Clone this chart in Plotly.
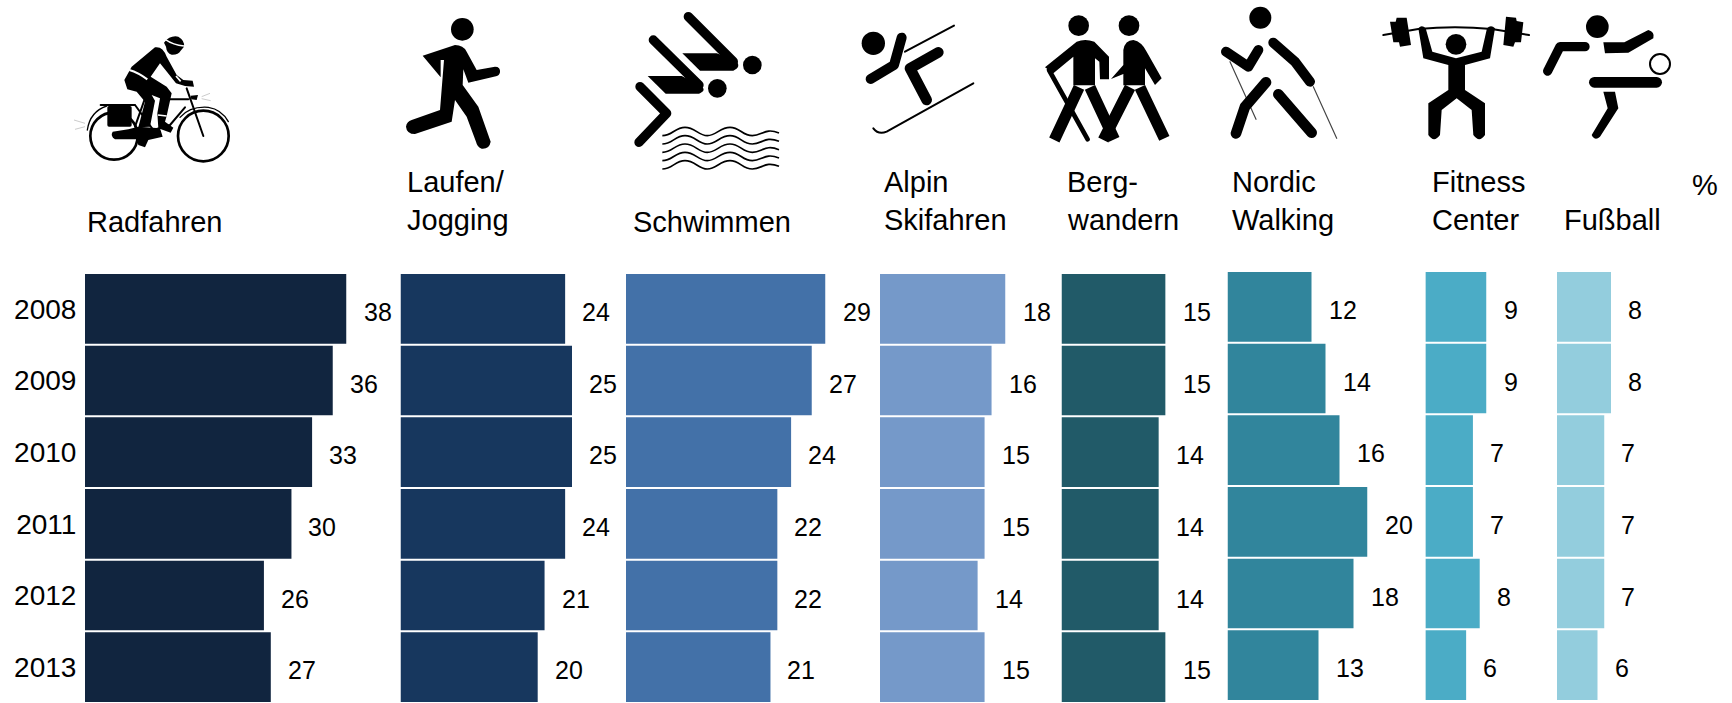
import base64
import plotly.graph_objects as go

# ---------- data ----------
years = ["2008", "2009", "2010", "2011", "2012", "2013"]
radfahren = [38, 36, 33, 30, 26, 27]
laufen = [24, 25, 25, 24, 21, 20]
schwimmen = [29, 27, 24, 22, 22, 21]
skifahren = [18, 16, 15, 15, 14, 15]
bergwandern = [15, 15, 14, 14, 14, 15]
nordic = [12, 14, 16, 20, 18, 13]
fitness = [9, 9, 7, 7, 8, 6]
fussball = [8, 8, 7, 7, 7, 6]
series = [radfahren, laufen, schwimmen, skifahren, bergwandern, nordic, fitness, fussball]
colors = ["#11253F", "#17375E", "#4371A8", "#7599C9", "#215A68", "#31859C", "#4BACC6", "#93CDDD"]

# ---------- layout in page pixels ----------
W, H = 1732, 703
panel_px = [(85, 346.5), (400.5, 572), (626, 825.5), (880, 1005.5),
            (1061.5, 1165.6), (1227.5, 1367.5), (1425.4, 1486.5), (1557, 1611)]
panel_top = [273, 273, 273, 273, 273, 271, 271, 271]
ROW_BLOCK = 430
FONT = "Liberation Sans, Arial, sans-serif"
LABEL_SIZE = 29

# text: (string, left px, baseline px)
label_lines = [
    ("Radfahren", 85.5, 231), ("Laufen/", 405.5, 191), ("Jogging", 405.5, 229),
    ("Schwimmen", 632, 231), ("Alpin", 883, 191), ("Skifahren", 883, 229),
    ("Berg-", 1065.5, 191), ("wandern", 1065.5, 229), ("Nordic", 1230.5, 191),
    ("Walking", 1230.5, 229), ("Fitness", 1431, 191), ("Center", 1431, 229),
    ("Fußball", 1563, 229), ("%", 1691, 194),
]

# ---------- pictograms: (crop x, y, w, h in page px, svg body in 3x crop units) ----------
W_ = 'fill="none" stroke-linecap="round" stroke-linejoin="round"'
wave_y = [380, 405, 430, 455, 480]
waves = "".join(
    f'<path fill="none" stroke="#000" stroke-width="5" d="M112 {y+12} C142 {y+12} 150 {y-13} 180 {y-13} '
    f'S220 {y+12} 247 {y+12} S285 {y-13} 315 {y-13} S352 {y+12} 382 {y+12} S420 {y-13} 462 {y+4}"/>'
    for y in wave_y)
icons = [
    (70, 30, 170, 140, f'''
      <circle cx="132" cy="318" r="71" {W_} stroke="#000" stroke-width="8"/>
      <circle cx="400" cy="318" r="76" {W_} stroke="#000" stroke-width="8"/>
      <path {W_} stroke="#000" stroke-width="4" d="M52 300 Q60 245 110 228 M330 262 Q360 228 415 232 Q455 238 475 275"/>
      <path {W_} stroke="#000" stroke-width="6" d="M92 225 L195 225 M195 225 L250 300 M300 208 L355 208 M350 175 L400 318 M345 232 L300 285 L250 300 M225 205 L195 290"/>
      <rect x="112" y="228" width="73" height="62" rx="5"/>
      <path d="M362 197 L384 195 L380 210 L364 208 Z"/>
      <path d="M128 305 L175 298 L205 290 L270 295 L278 320 L235 330 L225 352 L205 345 L200 328 L135 328 Q120 318 128 305 Z"/>
      <path d="M282 38 Q300 15 325 20 Q345 32 342 50 L332 62 Q325 75 305 74 Q290 70 288 50 Z"/>
      <path d="M163 150 L185 110 L255 52 Q278 48 290 80 L320 135 L340 150 L368 152 L372 170 L345 168 L318 160 L293 128 L270 100 L242 140 L290 170 L305 190 L290 258 L285 275 L310 293 L302 308 L265 295 L262 250 L270 205 L245 195 L255 212 L240 290 L205 292 L225 215 L200 185 L172 178 Z"/>
      <path d="M178 120 Q205 128 232 148" fill="none" stroke="#fff" stroke-width="6"/>
      <path d="M285 28 Q310 45 342 48" fill="none" stroke="#fff" stroke-width="4"/>
      <path d="M318 138 L332 154" fill="none" stroke="#fff" stroke-width="5"/>
      <path d="M264 255 L290 258" fill="none" stroke="#fff" stroke-width="5"/>
      <path d="M12 270 L45 280 M15 298 L45 290 M395 200 L420 190 M395 206 L422 212" fill="none" stroke="#ccc" stroke-width="3"/>
    '''),
    (400, 10, 110, 150, f'''
      <circle cx="187" cy="58" r="34"/>
      <path d="M68 137 L165 105 Q190 105 200 125 L230 180 L285 170 Q302 170 300 187 Q298 197 288 199 L205 218 L190 178 L188 225 L235 290 L272 395 Q268 418 245 416 Q232 412 228 395 L200 320 L165 270 L155 335 L45 372 Q20 372 18 350 Q20 335 35 330 L120 300 L132 150 L122 150 L122 202 Z"/>
    '''),
    (625, 5, 170, 170, f'''
      <circle cx="382" cy="180" r="28"/><circle cx="277" cy="250" r="28"/>
      <path {W_} stroke="#000" stroke-width="28" d="M190 35 L325 170"/>
      <path d="M172 145 L275 145 L330 165 Q352 185 325 197 L225 197 Z"/>
      <path {W_} stroke="#000" stroke-width="28" d="M85 105 L222 240"/>
      <path d="M68 213 L170 213 L225 240 Q248 256 222 266 L122 266 Z"/>
      <path {W_} stroke="#000" stroke-width="28" d="M45 245 L125 325 L42 412"/>
      {waves}
    '''),
    (850, 15, 140, 130, f'''
      <circle cx="70" cy="85" r="35"/>
      <path {W_} stroke="#000" stroke-width="30" d="M62 192 L132 150 L155 68"/>
      <path {W_} stroke="#000" stroke-width="32" d="M265 112 L180 160 L230 255"/>
      <path {W_} stroke="#000" stroke-width="6" d="M165 110 L312 32"/>
      <path {W_} stroke="#000" stroke-width="6" d="M370 205 L110 350 Q85 360 70 340"/>
    '''),
    (1035, 10, 140, 140, f'''
      <circle cx="131" cy="47" r="31"/><circle cx="282" cy="47" r="31"/>
      <path d="M30 172 L125 95 Q150 85 178 95 L222 140 L222 208 L195 208 L193 155 L180 145 L180 226 L115 226 L115 140 L55 190 Z"/>
      <path {W_} stroke="#000" stroke-width="14" d="M42 180 L158 388"/>
      <path fill="none" stroke="#000" stroke-width="34" d="M132 232 L58 390 M165 232 L238 388"/>
      <path d="M265 120 Q270 90 295 90 Q320 95 335 125 L380 205 L360 225 L330 175 L330 226 L265 226 L265 192 L228 207 L265 165 Z"/>
      <path fill="none" stroke="#000" stroke-width="34" d="M285 232 L205 390 M315 232 L388 385"/>
    '''),
    (1210, 0, 140, 145, f'''
      <circle cx="151" cy="53" r="33"/>
      <path {W_} stroke="#444" stroke-width="3.5" d="M60 185 L138 358 M310 260 L380 415"/>
      <path {W_} stroke="#000" stroke-width="30" d="M48 155 L115 200 L145 150"/>
      <path {W_} stroke="#000" stroke-width="30" d="M190 128 L255 185 L300 245"/>
      <path {W_} stroke="#000" stroke-width="32" d="M168 247 L105 320 L78 400"/>
      <path {W_} stroke="#000" stroke-width="32" d="M205 283 L305 398"/>
    '''),
    (1375, 5, 160, 140, f'''
      <circle cx="243" cy="118" r="31"/>
      <path {W_} stroke="#000" stroke-width="6" d="M25 90 L130 72 Q240 62 350 72 L462 90"/>
      <path d="M45 50 L62 50 L65 38 L95 38 L108 120 L75 125 L72 112 L55 112 Z"/>
      <path d="M385 120 L393 35 L423 38 L425 48 L445 52 L438 112 L420 112 L415 125 Z"/>
      <path d="M130 70 Q140 58 152 70 L172 140 L243 160 L320 140 L336 70 Q348 58 360 70 L345 160 L270 180 L270 255 L330 295 L330 390 Q313 415 295 390 L290 315 L245 280 L200 315 L195 390 Q177 415 160 390 L160 295 L220 255 L220 180 L145 160 Z"/>
    '''),
    (1535, 5, 145, 140, f'''
      <circle cx="187" cy="65" r="34"/>
      <path {W_} stroke="#000" stroke-width="28" d="M150 125 L75 125 L38 198"/>
      <path d="M205 112 L268 112 L340 75 Q360 80 355 100 L280 143 L210 145 Z"/>
      <circle cx="375" cy="177" r="30" {W_} stroke="#000" stroke-width="6"/>
      <path {W_} stroke="#000" stroke-width="32" d="M178 232 L365 232"/>
      <path d="M205 260 L240 260 L250 310 L195 395 Q180 410 170 390 L218 310 Z"/>
    '''),
]


def svg_uri(w, h, body):
    svg = (f'<svg xmlns="http://www.w3.org/2000/svg" width="{w*3}" height="{h*3}" '
           f'viewBox="0 0 {w*3} {h*3}">{body}</svg>')
    return "data:image/svg+xml;base64," + base64.b64encode(svg.encode()).decode()


# ---------- figure ----------
fig = go.Figure()
layout = dict(
    width=W, height=H, autosize=False,
    margin=dict(l=0, r=0, t=0, b=0),
    paper_bgcolor="white", plot_bgcolor="white",
    showlegend=False, bargap=0.028,
    font=dict(family=FONT, color="#000000"),
)
annotations = []

for i, (vals, col) in enumerate(zip(series, colors), start=1):
    xname = f"x{i}"
    yname = f"y{i}"
    fig.add_trace(go.Bar(x=vals, y=years, orientation="h", marker=dict(color=col, line=dict(width=0)),
                         xaxis=xname, yaxis=yname, hoverinfo="x+y"))
    left, right = panel_px[i - 1]
    top = panel_top[i - 1]
    layout[f"xaxis{i}"] = dict(domain=[left / W, right / W], range=[0, max(vals)],
                               visible=False, fixedrange=True, anchor=yname)
    layout[f"yaxis{i}"] = dict(domain=[(H - top - ROW_BLOCK) / H, (H - top) / H], type="category",
                               categoryorder="array", categoryarray=years, range=[5.5, -0.5],
                               anchor=xname, showgrid=False, zeroline=False, showline=False,
                               ticks="outside" if i == 1 else "", ticklen=2, tickcolor="rgba(0,0,0,0)",
                               showticklabels=i == 1,
                               tickfont=dict(size=28, family=FONT, color="#000000"), fixedrange=True)
    for row, v in enumerate(vals):
        # on a category axis an annotation's y is the category's serial number
        annotations.append(dict(x=v, y=row, xref=xname, yref=yname, text=str(v), showarrow=False,
                                xanchor="left", yanchor="middle", xshift=16, yshift=-3, borderpad=0,
                                font=dict(size=25, family=FONT, color="#000000")))

for text, left, base in label_lines:
    annotations.append(dict(x=left / W, y=(H - base + 9) / H, xref="paper", yref="paper", text=text,
                            showarrow=False, xanchor="left", yanchor="middle", borderpad=0,
                            font=dict(size=LABEL_SIZE, family=FONT, color="#000000")))

layout["annotations"] = annotations
layout["images"] = [
    dict(source=svg_uri(w, h, body), xref="paper", yref="paper", x=x / W, y=(H - y) / H,
         sizex=w / W, sizey=h / H, xanchor="left", yanchor="top", sizing="stretch", layer="above")
    for x, y, w, h, body in icons
]
fig.update_layout(**layout)

fig.write_html("out.html", config={"displayModeBar": False},
               post_script="document.body.style.margin='0';document.body.style.overflow='hidden';")
